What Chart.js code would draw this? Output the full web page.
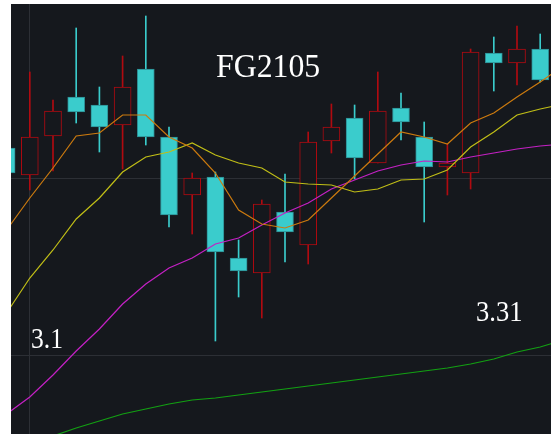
<!DOCTYPE html>
<html>
<head>
<meta charset="utf-8">
<script src="https://cdn.jsdelivr.net/npm/chart.js@4/dist/chart.umd.min.js"></script>
<style>
  html, body { margin: 0; padding: 0; width: 551px; height: 434px; overflow: hidden; background: #15181d; }
  #wrap { position: absolute; left: -5px; top: 0; width: 580px; height: 434px; }
  canvas { display: block; background: #15181d; }
  .band { position: absolute; background: #ffffff; z-index: 5; }
</style>
</head>
<body>
<div id="wrap"><canvas id="c" width="580" height="434"></canvas></div>
<div class="band" style="left:0;top:0;width:11px;height:434px;"></div>
<div class="band" style="left:0;top:0;width:551px;height:4px;"></div>
<script>
// Trading days (2021)
const dates = ['2.26','3.1','3.2','3.3','3.4','3.5','3.8','3.9','3.10','3.11','3.12','3.15','3.16','3.17','3.18','3.19','3.22','3.23','3.24','3.25','3.26','3.29','3.30','3.31','4.1'];
// OHLC
const open  = [2207,2180,2219,2258,2250,2230,2286,2218,2160,2178,2097,2082,2143,2110,2214,2237,2192,2247,2218,2188,2182,2302,2292,2306,null];
const high  = [2213,2283,2255,2327,2268,2299,2339,2228,2182,2183,2115,2155,2181,2223,2251,2250,2283,2262,2233,2211,2306,2318,2329,2321,null];
const low   = [2177,2165,2184,2232,2203,2186,2210,2128,2121,2014,2058,2037,2093,2091,2202,2176,2192,2215,2133,2160,2166,2264,2270,2273,null];
const close = [2182,2218,2244,2243,2228,2268,2218,2140,2177,2103,2084,2151,2123,2213,2228,2197,2244,2233,2188,2192,2303,2292,2306,2275,null];
// Moving averages
const ma5  = [2125,2157,2187,2219,2222,2240,2240,2218,2207,2182,2145,2131,2127,2135,2157,2179,2201,2223,2218,2211,2232,2242,2258,2273,2289];
const ma10 = [2042,2077,2105,2136,2157,2183,2198,2203,2212,2200,2192,2187,2173,2171,2170,2163,2166,2175,2176,2185,2208,2223,2240,2246,2251];
const ma20 = [1941,1958,1980,2004,2026,2051,2071,2087,2097,2111,2117,2130,2142,2152,2166,2175,2184,2190,2194,2193,2198,2202,2206,2209,2211];
const ma60 = [1900,1909,1919,1927,1934,1941,1946,1951,1955,1957,1960,1963,1966,1969,1972,1975,1978,1981,1984,1987,1991,1996,2003,2008,2015];
// Reference levels / marked dates
const gridLevels = [2000, 2177];
const markedDate = '3.1';
const title = 'FG2105';
const startLabel = '3.1';
const endLabel = '3.31';

const BG = '#15181d';
const RED = 'rgb(176,10,16)';
const CYAN = 'rgb(58,204,204)';
const CYAN_EDGE = 'rgb(44,140,146)';
const GRID = '#2c2f35';

const isUp = open.map((o, i) => o != null && close[i] >= o);
const bodies = open.map((o, i) => o == null ? null : [o, close[i]]);
const wicks = low.map((l, i) => l == null ? null : [l, high[i]]);

function drawText(ctx, str, x, y, size, sx) {
  ctx.save();
  ctx.translate(x, y);
  ctx.scale(sx, 1);
  ctx.font = size + 'px "Liberation Serif", "Times New Roman", serif';
  ctx.fillText(str, 0, 0);
  ctx.restore();
}

const textPlugin = {
  id: 'texts',
  afterDatasetsDraw(chart) {
    const ctx = chart.ctx;
    ctx.save();
    ctx.fillStyle = '#ffffff';
    ctx.textBaseline = 'alphabetic';
    ctx.textAlign = 'left';
    drawText(ctx, title, 221, 77, 34, 0.935);
    drawText(ctx, startLabel, 36, 348, 29, 0.88);
    drawText(ctx, endLabel, 481, 321, 30, 0.885);
    ctx.restore();
  }
};

const lineDs = (label, data, color, w) => ({
  type: 'line', label, data, borderColor: color, borderWidth: w,
  pointRadius: 0, tension: 0, fill: false, order: 0
});

new Chart(document.getElementById('c'), {
  type: 'bar',
  data: {
    labels: dates,
    datasets: [
      lineDs('MA5', ma5, 'rgb(204,122,14)', 1.2),
      lineDs('MA10', ma10, 'rgb(192,190,22)', 1.2),
      lineDs('MA20', ma20, 'rgb(196,32,196)', 1.2),
      lineDs('MA60', ma60, 'rgb(18,160,18)', 1.2),
      {
        label: 'body', data: bodies, grouped: false, barThickness: 17,
        backgroundColor: isUp.map(u => u ? BG : CYAN),
        borderColor: isUp.map(u => u ? RED : CYAN_EDGE),
        borderWidth: 1, borderSkipped: false, order: 5
      },
      {
        label: 'wick', data: wicks, grouped: false, barThickness: 1,
        backgroundColor: isUp.map(u => u ? RED : CYAN),
        borderWidth: 0, order: 6
      }
    ]
  },
  options: {
    responsive: false,
    animation: false,
    devicePixelRatio: 1,
    layout: { padding: 0, autoPadding: false },
    plugins: { legend: { display: false }, tooltip: { enabled: false } },
    scales: {
      x: {
        type: 'category', offset: true,
        grid: {
          offset: false, drawTicks: false, lineWidth: 1,
          color: (c) => (c.tick && c.tick.label === markedDate) ? GRID : 'rgba(0,0,0,0)'
        },
        border: { display: false },
        ticks: { display: false }
      },
      y: {
        min: 1921, max: 2355,
        afterBuildTicks: (s) => { s.ticks = gridLevels.map(v => ({ value: v })); },
        grid: { drawTicks: false, color: GRID, lineWidth: 1 },
        border: { display: false },
        ticks: { display: false }
      }
    }
  },
  plugins: [textPlugin]
});
</script>
</body>
</html>
